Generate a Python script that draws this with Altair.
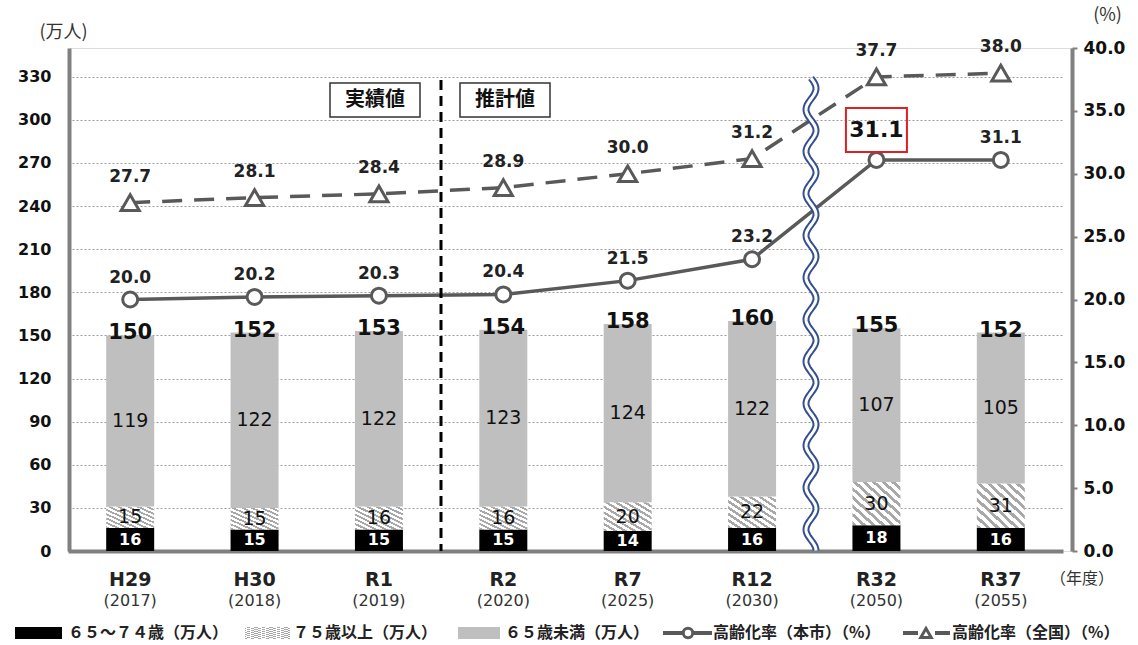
import altair as alt
import pandas as pd
import numpy as np

# ---------------- data ----------------
cats = ["H29", "H30", "R1", "R2", "R7", "R12", "R32", "R37"]
years = ["(2017)", "(2018)", "(2019)", "(2020)", "(2025)", "(2030)", "(2050)", "(2055)"]
age65_74 = [16, 15, 15, 15, 14, 16, 18, 16]          # 65～74歳（万人）
age75plus = [15, 15, 16, 16, 20, 22, 30, 31]         # 75歳以上（万人）
under65 = [119, 122, 122, 123, 124, 122, 107, 105]   # 65歳未満（万人）
totals = [150, 152, 153, 154, 158, 160, 155, 152]
city_rate = [20.0, 20.2, 20.3, 20.4, 21.5, 23.2, 31.1, 31.1]     # 高齢化率（本市）
nation_rate = [27.7, 28.1, 28.4, 28.9, 30.0, 31.2, 37.7, 38.0]   # 高齢化率（全国）
left_ticks = [0, 30, 60, 90, 120, 150, 180, 210, 240, 270, 300, 330]
right_ticks = [0, 5, 10, 15, 20, 25, 30, 35, 40]

df = pd.DataFrame({
    "cat": cats, "year": years, "a": age65_74, "b": age75plus, "c": under65,
    "total": totals, "city": city_rate, "nation": nation_rate,
})

W, H = 1003, 503
NUM_FONT = "DejaVu Sans"
JP_FONT = "Noto Sans CJK JP"
LINE_COL = "#595959"
AXIS_COL = "#808080"


def stripes(n=10, c1="#a8a8a8", c2="#ffffff", frac=0.45):
    stops = []
    for i in range(n):
        a, b, c = i / n, (i + frac) / n, (i + 1) / n
        stops += [alt.GradientStop(offset=a, color=c1), alt.GradientStop(offset=b, color=c1),
                  alt.GradientStop(offset=b, color=c2), alt.GradientStop(offset=c, color=c2)]
    return alt.LinearGradient(gradient="linear", stops=stops, x1=0, y1=1, x2=1, y2=0)


hatch = stripes(10)
hatch_leg = stripes(12)

x_enc = alt.X("cat:N", sort=cats,
              scale=alt.Scale(range=[-1, 994], paddingInner=0, paddingOuter=0),
              axis=alt.Axis(labels=False, ticks=False, title=None, grid=False,
                            domainColor=AXIS_COL, domainWidth=4))

left_scale = alt.Scale(domain=[0, 350], nice=False)
left_axis = alt.Axis(values=left_ticks, title="(万人)", titleAngle=0, titleX=-6, titleY=-16,
                     titleAlign="center", titleBaseline="middle", titleFont=JP_FONT,
                     titleFontSize=18, titleFontWeight="normal", titleColor="#333333",
                     labelFont=NUM_FONT, labelFontSize=16, labelFontWeight="bold",
                     labelColor="#111111", labelPadding=18, ticks=False, tickSize=0,
                     domainColor=AXIS_COL, domainWidth=4,
                     grid=True, gridColor="#9a9a9a", gridDash=[2, 2], gridWidth=1)

right_scale = alt.Scale(domain=[0, 40], nice=False)
right_axis = alt.Axis(orient="right", values=right_ticks, format=".1f", title="(%)",
                      titleAngle=0, titleX=35, titleY=-33, titleAlign="center",
                      titleBaseline="middle", titleFont=JP_FONT, titleFontSize=18,
                      titleFontWeight="normal", titleColor="#333333",
                      labelFont=NUM_FONT, labelFontSize=17, labelFontWeight="bold",
                      labelColor="#111111", labelPadding=6, ticks=True, tickSize=5,
                      tickColor=AXIS_COL, tickWidth=2, domainColor=AXIS_COL, domainWidth=4,
                      grid=False)

base = alt.Chart(df).encode(x=x_enc).transform_calculate(
    y0="0",
    y1="datum.a",
    y2="datum.a + datum.b",
    y3="datum.a + datum.b + datum.c",
    m1="datum.a / 2",
    m2="datum.a + datum.b / 2",
    m3="datum.a + datum.b + datum.c / 2",
)

bar_black = base.mark_bar(color="black", size=48).encode(
    y=alt.Y("y0:Q", scale=left_scale, axis=left_axis, stack=None), y2="y1:Q")
bar_hatch = base.mark_bar(fill=hatch, size=48).encode(y=alt.Y("y1:Q", stack=None), y2="y2:Q")
bar_gray = base.mark_bar(color="#bfbfbf", size=48).encode(y=alt.Y("y2:Q", stack=None), y2="y3:Q")

t_black = base.mark_text(font=NUM_FONT, fontSize=16, fontWeight="bold", color="white",
                         baseline="middle").encode(y="m1:Q", text="a:Q")
t_hatch = base.mark_text(font=NUM_FONT, fontSize=19, color="#111111",
                         baseline="middle").encode(y="m2:Q", text="b:Q")
t_gray = base.mark_text(font=NUM_FONT, fontSize=19, color="#111111",
                        baseline="middle").encode(y="m3:Q", text="c:Q")
t_total = base.mark_text(font=NUM_FONT, fontSize=21, fontWeight="bold", color="#111111",
                         baseline="middle", dy=-2).encode(y="total:Q", text="total:Q")

x_lab1 = base.mark_text(font=NUM_FONT, fontSize=19, fontWeight="bold", color="#222222",
                        baseline="middle").encode(y=alt.value(532), text="cat:N")
x_lab2 = base.mark_text(font=NUM_FONT, fontSize=16, color="#333333",
                        baseline="middle").encode(y=alt.value(553), text="year:N")

left = alt.layer(bar_black, bar_hatch, bar_gray, t_black, t_hatch, t_gray, t_total,
                 x_lab1, x_lab2)

# ---------------- lines (right axis) ----------------
line_city = base.mark_line(color=LINE_COL, strokeWidth=3.5).encode(
    y=alt.Y("city:Q", scale=right_scale, axis=right_axis))
line_nat = base.mark_line(color=LINE_COL, strokeWidth=3.5, strokeDash=[20, 12]).encode(
    y="nation:Q")
pt_city = base.mark_point(shape="circle", size=225, filled=True, fill="white", opacity=1,
                          stroke=LINE_COL, strokeWidth=3).encode(y="city:Q")
pt_nat = base.mark_point(shape="triangle-up", size=330, filled=True, fill="white", opacity=1,
                         stroke=LINE_COL, strokeWidth=3).encode(y="nation:Q")
lab_city = base.transform_filter("datum.cat != 'R32'").mark_text(
    font=NUM_FONT, fontSize=17, fontWeight="bold", color="#222222", baseline="middle",
    dy=-22).encode(y="city:Q", text=alt.Text("city:Q", format=".1f"))
lab_big = base.transform_filter("datum.cat == 'R32'").mark_text(
    font=NUM_FONT, fontSize=22, fontWeight="bold", color="#111111", baseline="middle",
    dy=-30).encode(y="city:Q", text=alt.Text("city:Q", format=".1f"))
box_big = base.transform_filter("datum.cat == 'R32'").mark_point(
    shape="M-30.5,-52L30.5,-52L30.5,-8L-30.5,-8Z", size=4, filled=False, opacity=1,
    stroke="#e02020", strokeWidth=2).encode(y="city:Q")
lab_nat = base.mark_text(font=NUM_FONT, fontSize=17, fontWeight="bold", color="#222222",
                         baseline="middle", dy=-26).encode(
    y="nation:Q", text=alt.Text("nation:Q", format=".1f"))

right = alt.layer(line_city, line_nat, pt_city, pt_nat, lab_city, lab_nat, lab_big, box_big)

# ---------------- decorations ----------------
one = alt.Data(values=[{"k": 1}])

div_rule = alt.Chart(one).mark_rule(color="black", strokeWidth=3, strokeDash=[10, 6]).encode(
    x=alt.value(372), y=alt.value(32), y2=alt.value(503))


def label_box(x0, x1, text):
    r = alt.Chart(one).mark_rect(fill="white", stroke="#333333", strokeWidth=1.5).encode(
        x=alt.value(x0), x2=alt.value(x1), y=alt.value(35), y2=alt.value(69))
    t = alt.Chart(one).mark_text(font=JP_FONT, fontSize=20, fontWeight="bold", color="#111111",
                                 baseline="middle").encode(
        x=alt.value((x0 + x1) / 2), y=alt.value(52), text=alt.value(text))
    return r + t


box1 = label_box(261, 351, "実績値")
box2 = label_box(391, 481, "推計値")

ys = np.arange(30, 504, 1.5)
wave_path = "M" + "L".join(f"{5 * np.sin(2 * np.pi * (y - 30) / 42):.2f},{y:.2f}" for y in ys)
wave_outer = alt.Chart(one).mark_point(shape=wave_path, size=4, filled=False, opacity=1,
                                       stroke="#34508f", strokeWidth=7).encode(
    x=alt.value(742), y=alt.value(0))
wave_inner = alt.Chart(one).mark_point(shape=wave_path, size=4, filled=False, opacity=1,
                                       stroke="white", strokeWidth=3).encode(
    x=alt.value(742), y=alt.value(0))

nendo = alt.Chart(one).mark_text(font=JP_FONT, fontSize=16, color="#333333",
                                 baseline="middle").encode(
    x=alt.value(1013), y=alt.value(531), text=alt.value("（年度）"))

# legend
LY = 585
leg_items = []
leg_items.append(alt.Chart(one).mark_rect(color="black").encode(
    x=alt.value(-54), x2=alt.value(-7), y=alt.value(LY - 6), y2=alt.value(LY + 6)))
leg_items.append(alt.Chart(one).mark_rect(fill=hatch_leg).encode(
    x=alt.value(176), x2=alt.value(221), y=alt.value(LY - 6), y2=alt.value(LY + 6)))
leg_items.append(alt.Chart(one).mark_rect(color="#bfbfbf").encode(
    x=alt.value(389), x2=alt.value(431), y=alt.value(LY - 6), y2=alt.value(LY + 6)))
leg_items.append(alt.Chart(one).mark_rule(color=LINE_COL, strokeWidth=4).encode(
    x=alt.value(594), x2=alt.value(643), y=alt.value(LY)))
leg_items.append(alt.Chart(one).mark_point(shape="circle", size=90, filled=True, fill="white",
                                           opacity=1, stroke=LINE_COL, strokeWidth=3).encode(
    x=alt.value(619), y=alt.value(LY)))
leg_items.append(alt.Chart(one).mark_rule(color=LINE_COL, strokeWidth=4,
                                          strokeDash=[15, 17]).encode(
    x=alt.value(834), x2=alt.value(881), y=alt.value(LY)))
leg_items.append(alt.Chart(one).mark_point(shape="triangle-up", size=110, filled=True,
                                           fill="white", opacity=1, stroke=LINE_COL,
                                           strokeWidth=3).encode(
    x=alt.value(857), y=alt.value(LY)))
leg_texts = [(-1, "６５～７４歳（万人）"), (224, "７５歳以上（万人）"), (436, "６５歳未満（万人）"),
             (644, "高齢化率（本市）（%）"), (883, "高齢化率（全国）（%）")]
for tx, tt in leg_texts:
    leg_items.append(alt.Chart(one).mark_text(font=JP_FONT, fontSize=16, fontWeight="bold",
                                              color="#222222", align="left",
                                              baseline="middle").encode(
        x=alt.value(tx), y=alt.value(LY), text=alt.value(tt)))

deco = alt.layer(div_rule, box1, box2, wave_outer, wave_inner, nendo, *leg_items)

chart = alt.layer(left, right, deco).resolve_scale(y="independent").properties(
    width=W, height=H,
    autosize=alt.AutoSizeParams(type="none"),
    padding={"left": 69, "top": 48, "right": 66, "bottom": 94},
).configure_view(stroke=None).configure(background="white")

chart.save("out.html", embed_options={"renderer": "svg", "actions": False})
